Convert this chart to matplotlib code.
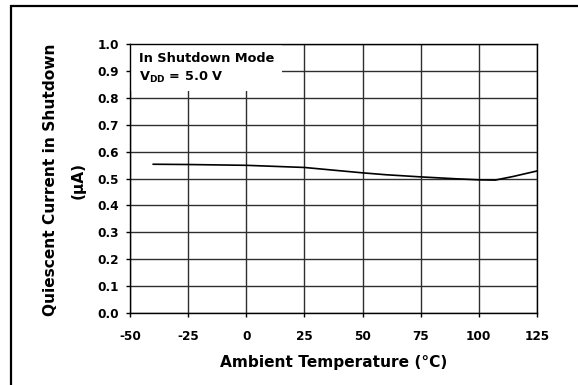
import numpy as np
import matplotlib
matplotlib.use("Agg")
import matplotlib.pyplot as plt
from matplotlib.patches import Rectangle

plt.rcParams['font.family'] = ['DejaVu Sans']
plt.rcParams['font.weight'] = 'bold'
plt.rcParams['mathtext.fontset'] = 'custom'
plt.rcParams['mathtext.rm'] = 'DejaVu Sans:bold'
plt.rcParams['mathtext.bf'] = 'DejaVu Sans:bold'

# data
temp_c = [-40, -25, 0, 25, 50, 60, 75, 90, 100, 107, 115, 125]
iq_ua = [0.553, 0.552, 0.549, 0.541, 0.521, 0.514, 0.506, 0.499, 0.495, 0.494, 0.508, 0.528]

x_ticks = [-50, -25, 0, 25, 50, 75, 100, 125]
y_ticks = [0.0, 0.1, 0.2, 0.3, 0.4, 0.5, 0.6, 0.7, 0.8, 0.9, 1.0]

W, H = 578, 385
fig = plt.figure(figsize=(W / 100, H / 100), dpi=100)
# outer frame: only left and top edges fall inside the image
fig.patches.append(Rectangle((11 / W, -0.05), 1.0, 1 - 6 / H + 0.05,
                             transform=fig.transFigure, fill=False,
                             edgecolor='black', linewidth=1.6))

ax = fig.add_axes([130 / W, 1 - 313 / H, 407 / W, 269 / H])
ax.set_xlim(-50, 125)
ax.set_ylim(0, 1.0)
ax.set_xticks(x_ticks)
ax.set_yticks(y_ticks)
ax.set_xticklabels([str(t) for t in x_ticks], fontsize=8.7, fontweight='bold')
ax.set_yticklabels(['%.1f' % t for t in y_ticks], fontsize=8.7, fontweight='bold')
ax.tick_params(direction='out', length=3, width=1)
ax.tick_params(axis='x', pad=9)
ax.tick_params(axis='y', pad=5)
ax.grid(True, color='#2e2e2e', linewidth=1.0)
ax.set_axisbelow(True)
for s in ax.spines.values():
    s.set_linewidth(1.0)

ax.plot(temp_c, iq_ua, color='black', linewidth=1.2, zorder=3)

# white box behind the annotation hides the grid
ax.add_patch(Rectangle((-50, 0.825), 65.4, 0.175, facecolor='white',
                       edgecolor='none', zorder=2))
ax.text(-46, 0.946, 'In Shutdown Mode', fontsize=9.3, fontweight='bold',
        va='center', ha='left', zorder=4)
ax.text(-46, 0.874, r'V$_{\mathrm{DD}}$ = 5.0 V', fontsize=9.3, fontweight='bold',
        va='center', ha='left', zorder=4)

fig.text(334 / W, 1 - 362 / H, 'Ambient Temperature (°C)', fontsize=11.1,
         fontweight='bold', ha='center', va='center')
fig.text(64.5 / W, 1 - 180 / H, 'Quiescent Current in Shutdown\n(µA)', fontsize=11.1,
         fontweight='bold', ha='center', va='center', rotation=90,
         linespacing=2.0, multialignment='center')

fig.savefig('out.png', dpi=100)
